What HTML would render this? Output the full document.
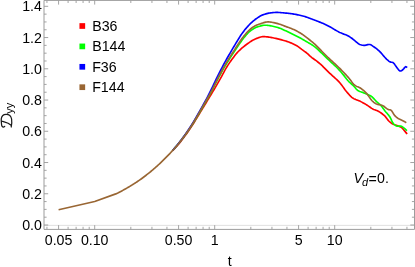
<!DOCTYPE html>
<html><head><meta charset="utf-8"><title>Dyy plot</title>
<style>
html,body{margin:0;padding:0;background:#fff;}
body{width:415px;height:267px;overflow:hidden;font-family:"Liberation Sans",sans-serif;}
svg{display:block;}
svg text{font-family:"Liberation Sans",sans-serif;font-size:14.2px;fill:#000;}
svg{will-change:transform;}
</style></head>
<body>
<svg width="415" height="267" viewBox="0 0 415 267">
<rect width="415" height="267" fill="#ffffff"/>
<g fill="none" stroke-width="1.65" stroke-linejoin="round" stroke-linecap="butt">
<path stroke="#ff0000" d="M172.80,150.57 L173.80,149.50 L174.80,148.42 L175.80,147.31 L176.80,146.19 L177.80,145.04 L178.80,143.85 L179.80,142.63 L180.80,141.37 L181.80,140.09 L182.80,138.79 L183.80,137.46 L184.80,136.12 L185.80,134.76 L186.80,133.40 L187.80,132.01 L188.80,130.59 L189.80,129.12 L190.80,127.63 L191.80,126.11 L192.80,124.55 L193.80,122.96 L194.80,121.33 L195.80,119.69 L196.80,118.04 L197.80,116.39 L198.80,114.75 L199.80,113.10 L200.80,111.44 L201.80,109.78 L202.80,108.13 L203.80,106.48 L204.80,104.84 L205.80,103.20 L206.80,101.55 L207.80,99.91 L208.80,98.26 L209.80,96.61 L210.80,94.95 L211.80,93.30 L212.80,91.64 L213.80,89.99 L214.80,88.33 L215.80,86.64 L216.80,84.92 L217.80,83.18 L218.80,81.42 L219.80,79.65 L220.80,77.86 L221.80,76.02 L222.80,74.15 L223.80,72.28 L224.80,70.44 L225.80,68.68 L226.80,67.01 L227.80,65.41 L228.80,63.87 L229.80,62.37 L230.80,60.93 L231.80,59.54 L232.80,58.20 L233.80,56.88 L234.80,55.58 L235.80,54.32 L236.80,53.12 L237.80,52.01 L238.80,51.01 L239.80,50.05 L240.80,49.13 L241.80,48.24 L242.80,47.38 L243.80,46.55 L244.80,45.75 L245.80,44.98 L246.80,44.25 L247.80,43.54 L248.80,42.83 L249.80,42.13 L250.80,41.44 L251.80,40.79 L252.80,40.18 L253.80,39.64 L254.80,39.18 L255.80,38.78 L256.80,38.38 L257.80,37.98 L258.80,37.61 L259.80,37.28 L260.80,37.00 L261.80,36.78 L262.80,36.64 L263.80,36.60 L264.80,36.63 L265.80,36.71 L266.80,36.81 L267.80,36.93 L268.80,37.08 L269.80,37.24 L270.80,37.42 L271.80,37.61 L272.80,37.81 L273.80,38.01 L274.80,38.21 L275.80,38.42 L276.80,38.64 L277.80,38.87 L278.80,39.11 L279.80,39.36 L280.80,39.62 L281.80,39.89 L282.80,40.17 L283.80,40.45 L284.80,40.74 L285.80,41.04 L286.80,41.36 L287.80,41.71 L288.80,42.07 L289.80,42.46 L290.80,42.86 L291.80,43.29 L292.80,43.74 L293.80,44.21 L294.80,44.71 L295.80,45.23 L296.80,45.77 L297.80,46.41 L298.80,47.13 L299.80,47.91 L300.80,48.69 L301.80,49.45 L302.80,50.17 L303.80,50.86 L304.80,51.56 L305.80,52.28 L306.80,53.04 L307.80,53.89 L308.80,54.85 L309.80,55.82 L310.80,56.73 L311.80,57.54 L312.80,58.28 L313.80,59.00 L314.80,59.71 L315.80,60.45 L316.80,61.21 L317.80,61.97 L318.80,62.75 L319.80,63.54 L320.80,64.38 L321.80,65.28 L322.80,66.32 L323.80,67.40 L324.80,68.41 L325.80,69.41 L326.80,70.40 L327.80,71.39 L328.80,72.36 L329.80,73.31 L330.80,74.23 L331.80,75.12 L332.80,76.02 L333.80,76.93 L334.80,77.84 L335.80,78.74 L336.80,79.67 L337.80,80.63 L338.80,81.64 L339.80,82.71 L340.80,83.91 L341.80,85.24 L342.80,86.63 L343.80,88.05 L344.80,89.45 L345.80,90.76 L346.80,91.95 L347.80,93.11 L348.80,94.26 L349.80,95.36 L350.80,96.38 L351.80,97.29 L352.80,98.05 L353.80,98.64 L354.80,99.12 L355.80,99.53 L356.80,99.90 L357.80,100.26 L358.80,100.65 L359.80,101.10 L360.80,101.61 L361.80,102.13 L362.80,102.66 L363.80,103.21 L364.80,103.78 L365.80,104.36 L366.80,104.97 L367.80,105.63 L368.80,106.33 L369.80,107.03 L370.80,107.71 L371.80,108.35 L372.80,108.92 L373.80,109.40 L374.80,109.81 L375.80,110.20 L376.80,110.60 L377.80,111.05 L378.80,111.56 L379.80,112.15 L380.80,112.80 L381.80,113.50 L382.80,114.27 L383.80,115.10 L384.80,115.99 L385.80,117.14 L386.80,118.51 L387.80,119.87 L388.80,121.00 L389.80,121.90 L390.80,122.73 L391.80,123.44 L392.80,124.01 L393.80,124.43 L394.80,124.77 L395.80,125.08 L396.80,125.41 L397.80,125.80 L398.80,126.19 L399.80,126.62 L400.80,127.13 L401.80,127.74 L402.80,128.75 L403.80,129.96 L404.80,131.14 L405.80,132.36 L406.80,133.61 L407.10,134.00"/>
<path stroke="#00ff00" d="M172.80,150.29 L173.80,149.17 L174.80,148.03 L175.80,146.88 L176.80,145.71 L177.80,144.52 L178.80,143.30 L179.80,142.05 L180.80,140.78 L181.80,139.48 L182.80,138.15 L183.80,136.81 L184.80,135.45 L185.80,134.08 L186.80,132.70 L187.80,131.29 L188.80,129.85 L189.80,128.37 L190.80,126.86 L191.80,125.31 L192.80,123.74 L193.80,122.12 L194.80,120.47 L195.80,118.79 L196.80,117.10 L197.80,115.41 L198.80,113.71 L199.80,111.98 L200.80,110.23 L201.80,108.48 L202.80,106.75 L203.80,105.03 L204.80,103.34 L205.80,101.65 L206.80,99.93 L207.80,98.17 L208.80,96.36 L209.80,94.52 L210.80,92.65 L211.80,90.77 L212.80,88.86 L213.80,86.92 L214.80,84.94 L215.80,82.97 L216.80,81.00 L217.80,79.06 L218.80,77.17 L219.80,75.33 L220.80,73.50 L221.80,71.69 L222.80,69.91 L223.80,68.15 L224.80,66.43 L225.80,64.75 L226.80,63.11 L227.80,61.51 L228.80,59.94 L229.80,58.40 L230.80,56.87 L231.80,55.36 L232.80,53.86 L233.80,52.36 L234.80,50.86 L235.80,49.35 L236.80,47.84 L237.80,46.36 L238.80,44.88 L239.80,43.39 L240.80,41.92 L241.80,40.48 L242.80,39.12 L243.80,37.84 L244.80,36.64 L245.80,35.46 L246.80,34.32 L247.80,33.23 L248.80,32.22 L249.80,31.31 L250.80,30.51 L251.80,29.84 L252.80,29.19 L253.80,28.59 L254.80,28.03 L255.80,27.53 L256.80,27.10 L257.80,26.76 L258.80,26.47 L259.80,26.18 L260.80,25.90 L261.80,25.64 L262.80,25.43 L263.80,25.27 L264.80,25.20 L265.80,25.22 L266.80,25.28 L267.80,25.39 L268.80,25.52 L269.80,25.68 L270.80,25.86 L271.80,26.06 L272.80,26.26 L273.80,26.47 L274.80,26.71 L275.80,26.97 L276.80,27.26 L277.80,27.57 L278.80,27.89 L279.80,28.23 L280.80,28.60 L281.80,29.02 L282.80,29.47 L283.80,29.94 L284.80,30.41 L285.80,30.87 L286.80,31.34 L287.80,31.82 L288.80,32.30 L289.80,32.79 L290.80,33.28 L291.80,33.77 L292.80,34.26 L293.80,34.74 L294.80,35.23 L295.80,35.72 L296.80,36.22 L297.80,36.72 L298.80,37.23 L299.80,37.76 L300.80,38.30 L301.80,38.86 L302.80,39.45 L303.80,40.04 L304.80,40.64 L305.80,41.24 L306.80,41.82 L307.80,42.39 L308.80,42.97 L309.80,43.55 L310.80,44.14 L311.80,44.76 L312.80,45.40 L313.80,46.08 L314.80,46.80 L315.80,47.62 L316.80,48.52 L317.80,49.47 L318.80,50.41 L319.80,51.35 L320.80,52.29 L321.80,53.24 L322.80,54.20 L323.80,55.17 L324.80,56.14 L325.80,57.10 L326.80,58.07 L327.80,59.03 L328.80,59.98 L329.80,60.92 L330.80,61.85 L331.80,62.77 L332.80,63.69 L333.80,64.62 L334.80,65.56 L335.80,66.52 L336.80,67.50 L337.80,68.51 L338.80,69.57 L339.80,70.67 L340.80,71.81 L341.80,72.97 L342.80,74.16 L343.80,75.39 L344.80,76.65 L345.80,77.93 L346.80,79.25 L347.80,80.48 L348.80,81.53 L349.80,82.49 L350.80,83.41 L351.80,84.34 L352.80,85.26 L353.80,86.20 L354.80,87.29 L355.80,88.53 L356.80,89.67 L357.80,90.46 L358.80,90.98 L359.80,91.41 L360.80,91.79 L361.80,92.14 L362.80,92.50 L363.80,92.90 L364.80,93.30 L365.80,93.69 L366.80,94.08 L367.80,94.49 L368.80,94.91 L369.80,95.38 L370.80,95.96 L371.80,96.69 L372.80,97.61 L373.80,98.64 L374.80,99.73 L375.80,100.80 L376.80,101.78 L377.80,102.67 L378.80,103.52 L379.80,104.40 L380.80,105.38 L381.80,106.56 L382.80,107.91 L383.80,109.34 L384.80,110.70 L385.80,111.92 L386.80,113.06 L387.80,114.19 L388.80,115.39 L389.80,116.75 L390.80,118.63 L391.80,120.94 L392.80,122.84 L393.80,123.98 L394.80,124.93 L395.80,125.66 L396.80,126.12 L397.80,126.27 L398.80,126.17 L399.80,126.05 L400.80,126.09 L401.80,126.47 L402.80,127.13 L403.80,127.91 L404.80,128.70 L405.80,129.57 L406.80,130.51 L407.00,130.70"/>
<path stroke="#0000ff" d="M172.80,150.20 L173.80,149.06 L174.80,147.89 L175.80,146.72 L176.80,145.52 L177.80,144.31 L178.80,143.07 L179.80,141.79 L180.80,140.48 L181.80,139.15 L182.80,137.79 L183.80,136.42 L184.80,135.02 L185.80,133.62 L186.80,132.20 L187.80,130.76 L188.80,129.28 L189.80,127.76 L190.80,126.21 L191.80,124.62 L192.80,123.00 L193.80,121.33 L194.80,119.63 L195.80,117.91 L196.80,116.17 L197.80,114.42 L198.80,112.68 L199.80,110.92 L200.80,109.14 L201.80,107.35 L202.80,105.56 L203.80,103.77 L204.80,101.98 L205.80,100.17 L206.80,98.32 L207.80,96.42 L208.80,94.45 L209.80,92.43 L210.80,90.37 L211.80,88.32 L212.80,86.26 L213.80,84.17 L214.80,82.07 L215.80,79.98 L216.80,77.92 L217.80,75.90 L218.80,73.91 L219.80,71.93 L220.80,69.97 L221.80,68.03 L222.80,66.11 L223.80,64.22 L224.80,62.37 L225.80,60.55 L226.80,58.76 L227.80,57.00 L228.80,55.27 L229.80,53.55 L230.80,51.84 L231.80,50.13 L232.80,48.43 L233.80,46.73 L234.80,45.05 L235.80,43.39 L236.80,41.74 L237.80,40.11 L238.80,38.49 L239.80,36.88 L240.80,35.32 L241.80,33.86 L242.80,32.46 L243.80,31.13 L244.80,29.85 L245.80,28.63 L246.80,27.48 L247.80,26.34 L248.80,25.25 L249.80,24.21 L250.80,23.22 L251.80,22.30 L252.80,21.41 L253.80,20.57 L254.80,19.77 L255.80,19.04 L256.80,18.35 L257.80,17.65 L258.80,16.98 L259.80,16.34 L260.80,15.77 L261.80,15.28 L262.80,14.89 L263.80,14.54 L264.80,14.21 L265.80,13.90 L266.80,13.62 L267.80,13.38 L268.80,13.18 L269.80,13.02 L270.80,12.90 L271.80,12.78 L272.80,12.65 L273.80,12.54 L274.80,12.45 L275.80,12.40 L276.80,12.39 L277.80,12.43 L278.80,12.48 L279.80,12.55 L280.80,12.62 L281.80,12.71 L282.80,12.80 L283.80,12.89 L284.80,12.98 L285.80,13.07 L286.80,13.17 L287.80,13.28 L288.80,13.40 L289.80,13.52 L290.80,13.64 L291.80,13.77 L292.80,13.92 L293.80,14.08 L294.80,14.25 L295.80,14.43 L296.80,14.62 L297.80,14.82 L298.80,15.03 L299.80,15.26 L300.80,15.49 L301.80,15.73 L302.80,15.98 L303.80,16.25 L304.80,16.55 L305.80,16.87 L306.80,17.21 L307.80,17.56 L308.80,17.93 L309.80,18.31 L310.80,18.69 L311.80,19.07 L312.80,19.45 L313.80,19.82 L314.80,20.19 L315.80,20.56 L316.80,20.94 L317.80,21.33 L318.80,21.71 L319.80,22.11 L320.80,22.51 L321.80,22.92 L322.80,23.34 L323.80,23.77 L324.80,24.21 L325.80,24.67 L326.80,25.15 L327.80,25.66 L328.80,26.19 L329.80,26.74 L330.80,27.29 L331.80,27.86 L332.80,28.46 L333.80,29.08 L334.80,29.70 L335.80,30.29 L336.80,30.85 L337.80,31.39 L338.80,31.91 L339.80,32.40 L340.80,32.86 L341.80,33.29 L342.80,33.71 L343.80,34.12 L344.80,34.48 L345.80,34.82 L346.80,35.20 L347.80,35.67 L348.80,36.23 L349.80,36.87 L350.80,37.56 L351.80,38.29 L352.80,39.03 L353.80,39.86 L354.80,40.72 L355.80,41.54 L356.80,42.40 L357.80,43.23 L358.80,43.94 L359.80,44.42 L360.80,44.79 L361.80,45.08 L362.80,45.28 L363.80,45.39 L364.80,45.36 L365.80,45.18 L366.80,44.92 L367.80,44.67 L368.80,44.51 L369.80,44.52 L370.80,44.83 L371.80,45.39 L372.80,46.08 L373.80,46.80 L374.80,47.47 L375.80,48.20 L376.80,48.97 L377.80,49.80 L378.80,50.67 L379.80,51.59 L380.80,52.63 L381.80,53.77 L382.80,54.97 L383.80,56.16 L384.80,57.28 L385.80,58.30 L386.80,59.29 L387.80,60.23 L388.80,61.08 L389.80,61.80 L390.80,62.15 L391.80,62.22 L392.80,62.46 L393.80,63.27 L394.80,64.60 L395.80,66.11 L396.80,67.45 L397.80,68.81 L398.80,70.08 L399.80,70.92 L400.80,71.01 L401.80,70.49 L402.80,69.74 L403.80,68.61 L404.80,67.38 L405.80,66.64 L406.80,67.27 L407.10,67.60"/>
<path stroke="#996633" d="M58.60,209.80 L94.70,201.50 L115.80,193.90 L117.80,193.00 L118.80,192.50 L119.80,191.99 L120.80,191.46 L121.80,190.92 L122.80,190.38 L123.80,189.84 L124.80,189.28 L125.80,188.72 L126.80,188.14 L127.80,187.55 L128.80,186.96 L129.80,186.36 L130.80,185.75 L131.80,185.14 L132.80,184.51 L133.80,183.88 L134.80,183.24 L135.80,182.60 L136.80,181.94 L137.80,181.27 L138.80,180.59 L139.80,179.90 L140.80,179.20 L141.80,178.48 L142.80,177.75 L143.80,177.01 L144.80,176.25 L145.80,175.49 L146.80,174.71 L147.80,173.92 L148.80,173.12 L149.80,172.31 L150.80,171.49 L151.80,170.65 L152.80,169.81 L153.80,168.95 L154.80,168.09 L155.80,167.21 L156.80,166.31 L157.80,165.41 L158.80,164.49 L159.80,163.55 L160.80,162.61 L161.80,161.65 L162.80,160.68 L163.80,159.70 L164.80,158.70 L165.80,157.70 L166.80,156.69 L167.80,155.67 L168.80,154.62 L169.80,153.57 L170.80,152.49 L171.80,151.41 L172.80,150.30 L173.80,149.18 L174.80,148.04 L175.80,146.88 L176.80,145.71 L177.80,144.52 L178.80,143.30 L179.80,142.04 L180.80,140.75 L181.80,139.44 L182.80,138.11 L183.80,136.75 L184.80,135.38 L185.80,134.00 L186.80,132.60 L187.80,131.18 L188.80,129.71 L189.80,128.21 L190.80,126.68 L191.80,125.12 L192.80,123.52 L193.80,121.89 L194.80,120.22 L195.80,118.53 L196.80,116.83 L197.80,115.11 L198.80,113.39 L199.80,111.64 L200.80,109.88 L201.80,108.11 L202.80,106.35 L203.80,104.61 L204.80,102.90 L205.80,101.18 L206.80,99.44 L207.80,97.66 L208.80,95.86 L209.80,94.02 L210.80,92.16 L211.80,90.27 L212.80,88.34 L213.80,86.36 L214.80,84.35 L215.80,82.32 L216.80,80.30 L217.80,78.32 L218.80,76.38 L219.80,74.49 L220.80,72.63 L221.80,70.78 L222.80,68.96 L223.80,67.17 L224.80,65.41 L225.80,63.69 L226.80,62.00 L227.80,60.35 L228.80,58.74 L229.80,57.15 L230.80,55.58 L231.80,54.02 L232.80,52.47 L233.80,50.91 L234.80,49.35 L235.80,47.79 L236.80,46.25 L237.80,44.75 L238.80,43.25 L239.80,41.74 L240.80,40.25 L241.80,38.80 L242.80,37.43 L243.80,36.14 L244.80,34.94 L245.80,33.77 L246.80,32.64 L247.80,31.56 L248.80,30.54 L249.80,29.60 L250.80,28.75 L251.80,27.99 L252.80,27.27 L253.80,26.60 L254.80,26.00 L255.80,25.49 L256.80,25.06 L257.80,24.66 L258.80,24.29 L259.80,23.96 L260.80,23.65 L261.80,23.31 L262.80,22.97 L263.80,22.65 L264.80,22.37 L265.80,22.13 L266.80,21.97 L267.80,21.89 L268.80,21.90 L269.80,21.98 L270.80,22.11 L271.80,22.27 L272.80,22.46 L273.80,22.66 L274.80,22.87 L275.80,23.10 L276.80,23.35 L277.80,23.63 L278.80,23.93 L279.80,24.24 L280.80,24.57 L281.80,24.94 L282.80,25.33 L283.80,25.73 L284.80,26.12 L285.80,26.49 L286.80,26.85 L287.80,27.21 L288.80,27.56 L289.80,27.93 L290.80,28.32 L291.80,28.73 L292.80,29.16 L293.80,29.61 L294.80,30.08 L295.80,30.58 L296.80,31.09 L297.80,31.62 L298.80,32.17 L299.80,32.74 L300.80,33.33 L301.80,33.99 L302.80,34.69 L303.80,35.43 L304.80,36.18 L305.80,36.95 L306.80,37.70 L307.80,38.46 L308.80,39.22 L309.80,39.99 L310.80,40.78 L311.80,41.58 L312.80,42.41 L313.80,43.27 L314.80,44.16 L315.80,45.11 L316.80,46.10 L317.80,47.12 L318.80,48.16 L319.80,49.19 L320.80,50.20 L321.80,51.21 L322.80,52.22 L323.80,53.23 L324.80,54.24 L325.80,55.24 L326.80,56.24 L327.80,57.22 L328.80,58.19 L329.80,59.13 L330.80,60.05 L331.80,60.96 L332.80,61.86 L333.80,62.77 L334.80,63.67 L335.80,64.59 L336.80,65.53 L337.80,66.49 L338.80,67.47 L339.80,68.45 L340.80,69.45 L341.80,70.46 L342.80,71.49 L343.80,72.52 L344.80,73.58 L345.80,74.64 L346.80,75.73 L347.80,76.86 L348.80,78.03 L349.80,79.25 L350.80,80.58 L351.80,82.03 L352.80,83.36 L353.80,84.37 L354.80,85.20 L355.80,85.88 L356.80,86.41 L357.80,86.81 L358.80,87.21 L359.80,87.68 L360.80,88.31 L361.80,89.02 L362.80,89.82 L363.80,90.69 L364.80,91.61 L365.80,92.59 L366.80,93.66 L367.80,94.95 L368.80,96.38 L369.80,97.85 L370.80,99.25 L371.80,100.48 L372.80,101.47 L373.80,102.32 L374.80,103.05 L375.80,103.66 L376.80,104.12 L377.80,104.42 L378.80,104.62 L379.80,104.78 L380.80,104.97 L381.80,105.24 L382.80,105.65 L383.80,106.27 L384.80,107.03 L385.80,107.85 L386.80,108.64 L387.80,109.30 L388.80,109.61 L389.80,109.71 L390.80,110.04 L391.80,111.03 L392.80,112.59 L393.80,114.29 L394.80,115.69 L395.80,116.64 L396.80,117.47 L397.80,118.20 L398.80,118.83 L399.80,119.36 L400.80,119.83 L401.80,120.28 L402.80,120.75 L403.80,121.27 L404.80,121.82 L405.80,122.40 L406.30,122.70"/>
</g>
<path d="M44.0,225.40H414.5" stroke="#dcdcdc" stroke-width="0.9" fill="none"/>
<g stroke="#868686" stroke-width="0.75" fill="none">
<path d="M44.00,225.00L48.20,225.00"/><path d="M414.50,225.00L410.30,225.00"/><path d="M44.00,217.19L46.60,217.19"/><path d="M414.50,217.19L411.90,217.19"/><path d="M44.00,209.38L46.60,209.38"/><path d="M414.50,209.38L411.90,209.38"/><path d="M44.00,201.57L46.60,201.57"/><path d="M414.50,201.57L411.90,201.57"/><path d="M44.00,193.76L48.20,193.76"/><path d="M414.50,193.76L410.30,193.76"/><path d="M44.00,185.95L46.60,185.95"/><path d="M414.50,185.95L411.90,185.95"/><path d="M44.00,178.14L46.60,178.14"/><path d="M414.50,178.14L411.90,178.14"/><path d="M44.00,170.33L46.60,170.33"/><path d="M414.50,170.33L411.90,170.33"/><path d="M44.00,162.52L48.20,162.52"/><path d="M414.50,162.52L410.30,162.52"/><path d="M44.00,154.71L46.60,154.71"/><path d="M414.50,154.71L411.90,154.71"/><path d="M44.00,146.90L46.60,146.90"/><path d="M414.50,146.90L411.90,146.90"/><path d="M44.00,139.09L46.60,139.09"/><path d="M414.50,139.09L411.90,139.09"/><path d="M44.00,131.28L48.20,131.28"/><path d="M414.50,131.28L410.30,131.28"/><path d="M44.00,123.47L46.60,123.47"/><path d="M414.50,123.47L411.90,123.47"/><path d="M44.00,115.66L46.60,115.66"/><path d="M414.50,115.66L411.90,115.66"/><path d="M44.00,107.85L46.60,107.85"/><path d="M414.50,107.85L411.90,107.85"/><path d="M44.00,100.04L48.20,100.04"/><path d="M414.50,100.04L410.30,100.04"/><path d="M44.00,92.23L46.60,92.23"/><path d="M414.50,92.23L411.90,92.23"/><path d="M44.00,84.42L46.60,84.42"/><path d="M414.50,84.42L411.90,84.42"/><path d="M44.00,76.61L46.60,76.61"/><path d="M414.50,76.61L411.90,76.61"/><path d="M44.00,68.80L48.20,68.80"/><path d="M414.50,68.80L410.30,68.80"/><path d="M44.00,60.99L46.60,60.99"/><path d="M414.50,60.99L411.90,60.99"/><path d="M44.00,53.18L46.60,53.18"/><path d="M414.50,53.18L411.90,53.18"/><path d="M44.00,45.37L46.60,45.37"/><path d="M414.50,45.37L411.90,45.37"/><path d="M44.00,37.56L48.20,37.56"/><path d="M414.50,37.56L410.30,37.56"/><path d="M44.00,29.75L46.60,29.75"/><path d="M414.50,29.75L411.90,29.75"/><path d="M44.00,21.94L46.60,21.94"/><path d="M414.50,21.94L411.90,21.94"/><path d="M44.00,14.13L46.60,14.13"/><path d="M414.50,14.13L411.90,14.13"/><path d="M44.00,6.32L48.20,6.32"/><path d="M414.50,6.32L410.30,6.32"/><path d="M58.58,229.40L58.58,225.20"/><path d="M58.58,0.40L58.58,4.60"/><path d="M94.70,229.40L94.70,225.20"/><path d="M94.70,0.40L94.70,4.60"/><path d="M178.58,229.40L178.58,225.20"/><path d="M178.58,0.40L178.58,4.60"/><path d="M214.70,229.40L214.70,225.20"/><path d="M214.70,0.40L214.70,4.60"/><path d="M298.58,229.40L298.58,225.20"/><path d="M298.58,0.40L298.58,4.60"/><path d="M334.70,229.40L334.70,225.20"/><path d="M334.70,0.40L334.70,4.60"/><path d="M46.95,229.40L46.95,226.80"/><path d="M46.95,0.40L46.95,3.00"/><path d="M68.08,229.40L68.08,226.80"/><path d="M68.08,0.40L68.08,3.00"/><path d="M76.11,229.40L76.11,226.80"/><path d="M76.11,0.40L76.11,3.00"/><path d="M83.07,229.40L83.07,226.80"/><path d="M83.07,0.40L83.07,3.00"/><path d="M89.21,229.40L89.21,226.80"/><path d="M89.21,0.40L89.21,3.00"/><path d="M130.82,229.40L130.82,226.80"/><path d="M130.82,0.40L130.82,3.00"/><path d="M151.95,229.40L151.95,226.80"/><path d="M151.95,0.40L151.95,3.00"/><path d="M166.95,229.40L166.95,226.80"/><path d="M166.95,0.40L166.95,3.00"/><path d="M188.08,229.40L188.08,226.80"/><path d="M188.08,0.40L188.08,3.00"/><path d="M196.11,229.40L196.11,226.80"/><path d="M196.11,0.40L196.11,3.00"/><path d="M203.07,229.40L203.07,226.80"/><path d="M203.07,0.40L203.07,3.00"/><path d="M209.21,229.40L209.21,226.80"/><path d="M209.21,0.40L209.21,3.00"/><path d="M250.82,229.40L250.82,226.80"/><path d="M250.82,0.40L250.82,3.00"/><path d="M271.95,229.40L271.95,226.80"/><path d="M271.95,0.40L271.95,3.00"/><path d="M286.95,229.40L286.95,226.80"/><path d="M286.95,0.40L286.95,3.00"/><path d="M308.08,229.40L308.08,226.80"/><path d="M308.08,0.40L308.08,3.00"/><path d="M316.11,229.40L316.11,226.80"/><path d="M316.11,0.40L316.11,3.00"/><path d="M323.07,229.40L323.07,226.80"/><path d="M323.07,0.40L323.07,3.00"/><path d="M329.21,229.40L329.21,226.80"/><path d="M329.21,0.40L329.21,3.00"/><path d="M370.82,229.40L370.82,226.80"/><path d="M370.82,0.40L370.82,3.00"/><path d="M391.95,229.40L391.95,226.80"/><path d="M391.95,0.40L391.95,3.00"/><path d="M406.95,229.40L406.95,226.80"/><path d="M406.95,0.40L406.95,3.00"/>
</g>
<path d="M44.0,0.4H414.5V229.4H44.0Z" stroke="#9c9c9c" stroke-width="1" fill="none"/>
<g><text x="41.9" y="230.00" text-anchor="end">0.0</text><text x="41.9" y="198.76" text-anchor="end">0.2</text><text x="41.9" y="167.52" text-anchor="end">0.4</text><text x="41.9" y="136.28" text-anchor="end">0.6</text><text x="41.9" y="105.04" text-anchor="end">0.8</text><text x="41.9" y="73.80" text-anchor="end">1.0</text><text x="41.9" y="42.56" text-anchor="end">1.2</text><text x="41.9" y="11.32" text-anchor="end">1.4</text></g>
<g><text x="58.58" y="244.8" text-anchor="middle">0.05</text><text x="94.70" y="244.8" text-anchor="middle">0.10</text><text x="178.58" y="244.8" text-anchor="middle">0.50</text><text x="214.70" y="244.8" text-anchor="middle">1</text><text x="298.58" y="244.8" text-anchor="middle">5</text><text x="334.70" y="244.8" text-anchor="middle">10</text></g>
<g><rect x="79.45" y="23.15" width="5.7" height="5.7" fill="#ff0000"/><text x="92.2" y="30.85">B36</text><rect x="79.45" y="43.55" width="5.7" height="5.7" fill="#00ff00"/><text x="92.2" y="51.25">B144</text><rect x="79.45" y="63.95" width="5.7" height="5.7" fill="#0000ff"/><text x="92.2" y="71.65">F36</text><rect x="79.45" y="84.35" width="5.7" height="5.7" fill="#996633"/><text x="92.2" y="92.05">F144</text></g>
<text x="229.7" y="266.3" text-anchor="middle">t</text>
<path d="M4.7,126.3 C3.5,127.7 1.7,126.9 1.6,124.9 C1.4,122.6 1.0,120.6 1.3,118.6 C1.7,116.0 3.6,114.4 6.0,114.3 C8.7,114.2 11.0,115.8 11.6,119.0 C12.0,121.8 11.7,124.8 11.2,127.0 M1.6,121.1 C4.6,122.2 8.0,122.5 10.8,125.0" fill="none" stroke="#1a1a1a" stroke-width="1.25" stroke-linecap="round" stroke-linejoin="round"/>
<text transform="translate(13.0,113.8) rotate(-90)" style="font-size:11px">yy</text>
<text x="353.4" y="183.3" font-style="italic">V</text>
<text x="362.1" y="185.5" font-style="italic" style="font-size:11px">d</text>
<text x="368.6" y="184.0">=</text>
<text x="377.0" y="183.3">0.</text>
</svg>
</body></html>
